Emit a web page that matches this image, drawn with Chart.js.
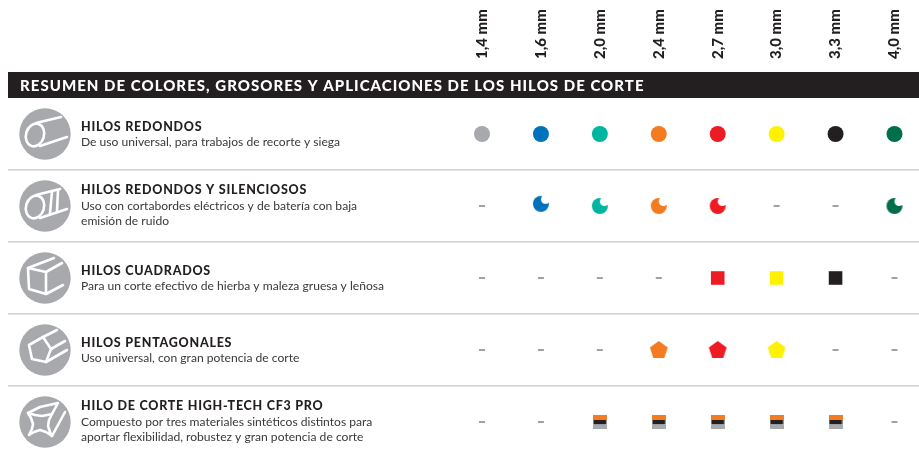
<!DOCTYPE html>
<html>
<head>
<meta charset="utf-8">
<style>
  body { margin: 0; background: #fff; }
  canvas { display: block; }
</style>
<script src="https://cdn.jsdelivr.net/npm/chart.js@4"></script>
</head>
<body>
<canvas id="hilos" width="919" height="453"></canvas>
<script>
const titulo = 'RESUMEN DE COLORES, GROSORES Y APLICACIONES DE LOS HILOS DE CORTE';
const grosores = ['1,4 mm', '1,6 mm', '2,0 mm', '2,4 mm', '2,7 mm', '3,0 mm', '3,3 mm', '4,0 mm'];
const colores = ['#a7a9ac', '#0072bc', '#00b5a0', '#f47b20', '#ed1c24', '#fff200', '#231f20', '#006f4a'];

const nombres = ['HILOS REDONDOS', 'HILOS REDONDOS Y SILENCIOSOS', 'HILOS CUADRADOS', 'HILOS PENTAGONALES', 'HILO DE CORTE HIGH-TECH CF3 PRO'];
const textos = [
  ['De uso universal, para trabajos de recorte y siega'],
  ['Uso con cortabordes eléctricos y de batería con baja', 'emisión de ruido'],
  ['Para un corte efectivo de hierba y maleza gruesa y leñosa'],
  ['Uso universal, con gran potencia de corte'],
  ['Compuesto por tres materiales sintéticos distintos para', 'aportar flexibilidad, robustez y gran potencia de corte']
];

// 1 = available in that thickness, 0 = dash
const redondos     = [1, 1, 1, 1, 1, 1, 1, 1];
const silenciosos  = [0, 1, 1, 1, 1, 0, 0, 1];
const cuadrados    = [0, 0, 0, 0, 1, 1, 1, 0];
const pentagonales = [0, 0, 0, 1, 1, 1, 0, 0];
const cf3          = [0, 0, 1, 1, 1, 1, 1, 0];

// row position of each mark (the 1,6 mm silent mark sits a little high in the original)
const filaRedondos     = [0, 0, 0, 0, 0, 0, 0, 0];
const filaSilenciosos  = [1, 0.97, 1, 1, 1, 1, 1, 1];
const filaCuadrados    = [2, 2, 2, 2, 2, 2, 2, 2];
const filaPentagonales = [3, 3, 3, 3, 3, 3, 3, 3];
const filaCf3          = [4, 4, 4, 4, 4, 4, 4, 4];

function lienzo(w, h, draw) {
  const c = document.createElement('canvas');
  c.width = w;
  c.height = h;
  draw(c.getContext('2d'));
  return c;
}

function luna(color) {
  return lienzo(18, 18, ctx => {
    ctx.fillStyle = color;
    ctx.beginPath();
    ctx.arc(9, 9, 8, 0, Math.PI * 2);
    ctx.fill();
    ctx.globalCompositeOperation = 'destination-out';
    ctx.beginPath();
    ctx.arc(13.6, 4.4, 4.6, 0, Math.PI * 2);
    ctx.fill();
  });
}

function pentagono(color) {
  return lienzo(20, 20, ctx => {
    ctx.fillStyle = color;
    ctx.beginPath();
    for (let i = 0; i < 5; i++) {
      const a = -Math.PI / 2 + i * Math.PI * 2 / 5;
      ctx.lineTo(10 + 9.4 * Math.cos(a), 10.4 + 9.4 * Math.sin(a));
    }
    ctx.closePath();
    ctx.fill();
  });
}

function capas() {
  return lienzo(14, 14, ctx => {
    ctx.fillStyle = '#f47b20';
    ctx.fillRect(0, 0, 14, 5);
    ctx.fillStyle = '#231f20';
    ctx.fillRect(0.5, 5, 13, 4.5);
    ctx.fillStyle = '#a7a9ac';
    ctx.fillRect(0, 9.5, 14, 4.5);
  });
}

const lunas = colores.map(luna);
const pentagonos = colores.map(pentagono);
const capasCf3 = capas();

function serie(disponible, filas, marca, radio) {
  return {
    data: filas,
    showLine: false,
    clip: false,
    pointStyle: c => disponible[c.dataIndex] ? (typeof marca === 'function' ? marca(c.dataIndex) : marca) : 'line',
    pointRadius: c => disponible[c.dataIndex] ? radio : 3,
    pointBackgroundColor: c => colores[c.dataIndex],
    pointBorderColor: c => disponible[c.dataIndex] ? colores[c.dataIndex] : '#444',
    pointBorderWidth: c => disponible[c.dataIndex] ? 0 : 1
  };
}

// white outline drawings for the round icons, in px around the icon centre
const iconos = [
  [{ ell: [-10, 1, 9, 11.5, 0.3] }, { path: [[-9, -11], [16, -17]] }, { path: [[-5, 12], [22, 3]] }],
  [{ ell: [-10, 1, 9, 11.5, 0.3] }, { path: [[-9, -11], [15, -17]] }, { path: [[-5, 12], [22, 3]] }, { path: [[7, -14], [5, 7]] }, { path: [[13, -16], [12, 5]] }],
  [{ path: [[-17, -10], [1, -6], [1, 16], [-16, 11], [-17, -10]] }, { path: [[-17, -10], [9, -20]] }, { path: [[1, -6], [17, -15]] }, { path: [[1, 16], [18, 7]] }],
  [{ path: [[-16, -5], [-2, -13], [6, -1], [1, 12], [-13, 9], [-16, -5]] }, { path: [[-2, -13], [12, -20]] }, { path: [[6, -1], [20, -9]] }, { path: [[1, 12], [22, 0]] }],
  [{ path: [[-17, -9], [-10, -7], [-3, -6], [7, -8], [4, -2], [3, 4], [5, 10], [7, 14], [1, 10], [-5, 8], [-11, 10], [-16, 13], [-13, 7], [-12, 2], [-14, -4], [-17, -9]] }, { path: [[-17, -9], [-5, -15], [13, -19], [7, -8]] }, { path: [[7, 14], [13, 3], [20, -10]] }]
];

function dibujaIcono(ctx, cx, cy, partes) {
  ctx.fillStyle = '#a7a9ac';
  ctx.beginPath();
  ctx.arc(cx, cy, 25.7, 0, Math.PI * 2);
  ctx.fill();
  ctx.strokeStyle = '#fff';
  ctx.lineWidth = 2.6;
  ctx.lineJoin = 'round';
  ctx.lineCap = 'round';
  partes.forEach(p => {
    ctx.beginPath();
    if (p.ell) {
      ctx.ellipse(cx + p.ell[0], cy + p.ell[1], p.ell[2], p.ell[3], p.ell[4], 0, Math.PI * 2);
    } else {
      p.path.forEach(q => ctx.lineTo(cx + q[0], cy + q[1]));
    }
    ctx.stroke();
  });
}

const tabla = {
  id: 'tabla',
  beforeDatasetsDraw(chart) {
    const ctx = chart.ctx;
    const y = chart.scales.y;
    ctx.save();

    ctx.fillStyle = '#231f20';
    ctx.fillRect(8, 72, 911, 26);
    ctx.fillStyle = '#fff';
    ctx.font = '900 15px Lato';
    ctx.letterSpacing = '1.03px';
    ctx.textBaseline = 'alphabetic';
    ctx.fillText(titulo, 20, 91);
    ctx.letterSpacing = '0px';

    nombres.forEach((nombre, i) => {
      const py = y.getPixelForValue(i);
      if (i < nombres.length - 1) {
        ctx.fillStyle = '#cfcfd0';
        ctx.fillRect(8, Math.round(y.getPixelForValue(i + 0.5)) - 1, 911, 1.5);
      }
      dibujaIcono(ctx, 45, py, iconos[i]);

      const lineas = textos[i];
      const top = lineas.length > 1 ? py - 15 : py - 7;
      ctx.fillStyle = '#231f20';
      ctx.font = '900 12.5px Lato';
      ctx.letterSpacing = '0.75px';
      ctx.fillText(nombre, 81, top + 4 - (lineas.length > 1 ? 1 : 0));
      ctx.letterSpacing = '0px';
      ctx.font = '12.1px Lato';
      ctx.fillStyle = '#3a3738';
      lineas.forEach((t, k) => ctx.fillText(t, 81, top + 19 + k * 15));
    });
    ctx.restore();
  }
};

new Chart(document.getElementById('hilos'), {
  type: 'line',
  data: {
    labels: grosores,
    datasets: [
      serie(redondos, filaRedondos, 'circle', 8),
      serie(silenciosos, filaSilenciosos, i => lunas[i], 8),
      serie(cuadrados, filaCuadrados, 'rect', 9.6),
      serie(pentagonales, filaPentagonales, i => pentagonos[i], 9),
      serie(cf3, filaCf3, capasCf3, 7)
    ]
  },
  options: {
    responsive: false,
    animation: false,
    events: [],
    layout: { padding: { left: 482, right: 24.5, top: 0, bottom: 31 } },
    plugins: { legend: { display: false }, tooltip: { enabled: false } },
    scales: {
      x: {
        type: 'category',
        position: 'top',
        offset: false,
        afterFit(scale) {
          scale.height = 134;
          scale.paddingLeft = 0;
          scale.paddingRight = 0;
        },
        grid: { display: false, drawTicks: false },
        border: { display: false },
        ticks: {
          autoSkip: false,
          minRotation: 90,
          maxRotation: 90,
          padding: 75,
          labelOffset: 18,
          color: '#231f20',
          font: { family: 'Lato', weight: '900', size: 15 }
        }
      },
      y: {
        type: 'linear',
        display: false,
        reverse: true,
        min: 0,
        max: 4
      }
    }
  },
  plugins: [tabla]
});
</script>
</body>
</html>
